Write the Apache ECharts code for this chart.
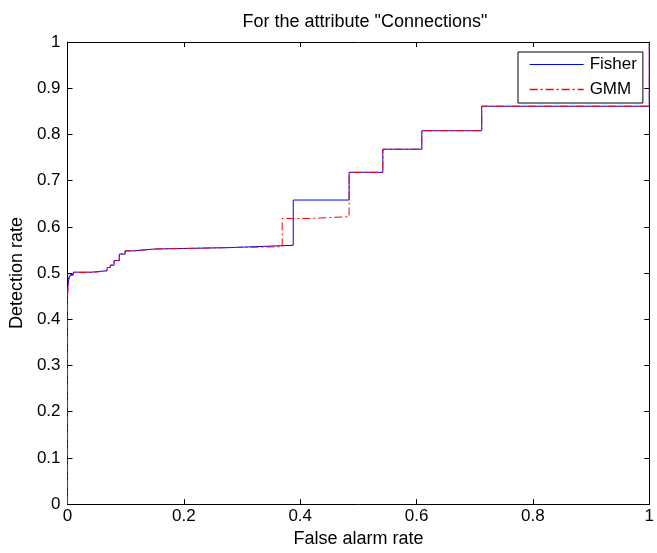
<!DOCTYPE html>
<html>
<head>
<meta charset="utf-8">
<script src="https://cdn.jsdelivr.net/npm/echarts@6/dist/echarts.min.js"></script>
<style>
html,body{margin:0;padding:0;background:#fff;}
#chart{width:657px;height:553px;}
</style>
</head>
<body>
<div id="chart"></div>
<script>
var titleText = 'For the attribute "Connections"';
var xName = 'False alarm rate';
var yName = 'Detection rate';
var seriesNames = ['Fisher', 'GMM'];

// step points: (false alarm rate where the step occurs, detection rate after it)
var fisherX = [0, 0, 0.002, 0.005, 0.010, 0.042, 0.068, 0.0735, 0.080, 0.089, 0.099, 0.113, 0.150, 0.276, 0.320, 0.388, 0.484, 0.542, 0.609, 0.712, 1.0, 1.0];
var fisherY = [0, 0.460, 0.490, 0.497, 0.502, 0.505, 0.512, 0.517, 0.527, 0.541, 0.548, 0.552, 0.555, 0.557, 0.560, 0.658, 0.718, 0.768, 0.808, 0.861, 0.861, 1.0];
var gmmX = [0, 0, 0.002, 0.005, 0.010, 0.042, 0.068, 0.0735, 0.080, 0.089, 0.099, 0.113, 0.150, 0.276, 0.369, 0.415, 0.484, 0.542, 0.609, 0.712, 1.0, 1.0];
var gmmY = [0, 0.450, 0.485, 0.495, 0.501, 0.505, 0.512, 0.517, 0.527, 0.541, 0.548, 0.552, 0.555, 0.557, 0.618, 0.622, 0.718, 0.768, 0.808, 0.861, 0.861, 1.0];

function pairs(xs, ys){ return xs.map(function(x,i){ return [x, ys[i]]; }); }

var font = 'Liberation Sans, Arial, sans-serif';
var fisherColor = '#0000ff', gmmColor = '#ff0000';
var chart = echarts.init(document.getElementById('chart'), null, {renderer:'canvas'});
function axLine(){ return {show:true, onZero:false, lineStyle:{color:'#000', width:1}}; }
function tickIn(){ return {show:true, inside:true, length:5, lineStyle:{color:'#000', width:1}}; }
chart.setOption({
  animation:false,
  backgroundColor:'#fff',
  title:{text:titleText, left:360, textAlign:'center', top:8,
    textStyle:{fontFamily:font, fontSize:18, fontWeight:'normal', color:'#000'}},
  grid:{left:67, right:5, top:42, bottom:45, containLabel:false},
  legend:{
    data:[
      {name:seriesNames[0], lineStyle:{color:fisherColor, width:1.2, type:'solid', opacity:1}},
      {name:seriesNames[1], lineStyle:{color:gmmColor, width:1.3, type:[8,3,2,3], opacity:1}}
    ],
    orient:'vertical', left:518, top:52,
    backgroundColor:'#fff', borderColor:'#000', borderWidth:1,
    padding:[4,6,5,11], itemWidth:54, itemHeight:17, itemGap:8,
    itemStyle:{opacity:0},
    textStyle:{fontFamily:font, fontSize:17, color:'#000', padding:[0,0,0,1]}
  },
  xAxis:[
    {type:'value', min:0, max:1, interval:0.2, position:'bottom',
     name:xName, nameLocation:'middle', nameGap:25,
     nameTextStyle:{fontFamily:font, fontSize:18, color:'#000'},
     axisLine:axLine(), axisTick:tickIn(), splitLine:{show:false},
     axisLabel:{fontFamily:font, fontSize:17, color:'#000', margin:4}},
    {type:'value', min:0, max:1, interval:0.2, position:'top',
     axisLine:axLine(), axisTick:tickIn(), splitLine:{show:false},
     axisLabel:{show:false}}
  ],
  yAxis:[
    {type:'value', min:0, max:1, interval:0.1, position:'left',
     name:yName, nameLocation:'middle', nameGap:30, nameRotate:90,
     nameTextStyle:{fontFamily:font, fontSize:18, color:'#000'},
     axisLine:axLine(), axisTick:tickIn(), splitLine:{show:false},
     axisLabel:{fontFamily:font, fontSize:17, color:'#000', margin:7}},
    {type:'value', min:0, max:1, interval:0.1, position:'right',
     axisLine:axLine(), axisTick:tickIn(), splitLine:{show:false},
     axisLabel:{show:false}}
  ],
  series:[
    {name:seriesNames[0], type:'line', step:'end', data:pairs(fisherX, fisherY),
     symbol:'none', lineStyle:{color:fisherColor, width:1}, itemStyle:{color:fisherColor}, z:2},
    {name:seriesNames[1], type:'line', step:'end', data:pairs(gmmX, gmmY),
     symbol:'none', lineStyle:{color:gmmColor, width:1, type:[8,3,2,3]}, itemStyle:{color:gmmColor}, z:3}
  ]
});
</script>
</body>
</html>
